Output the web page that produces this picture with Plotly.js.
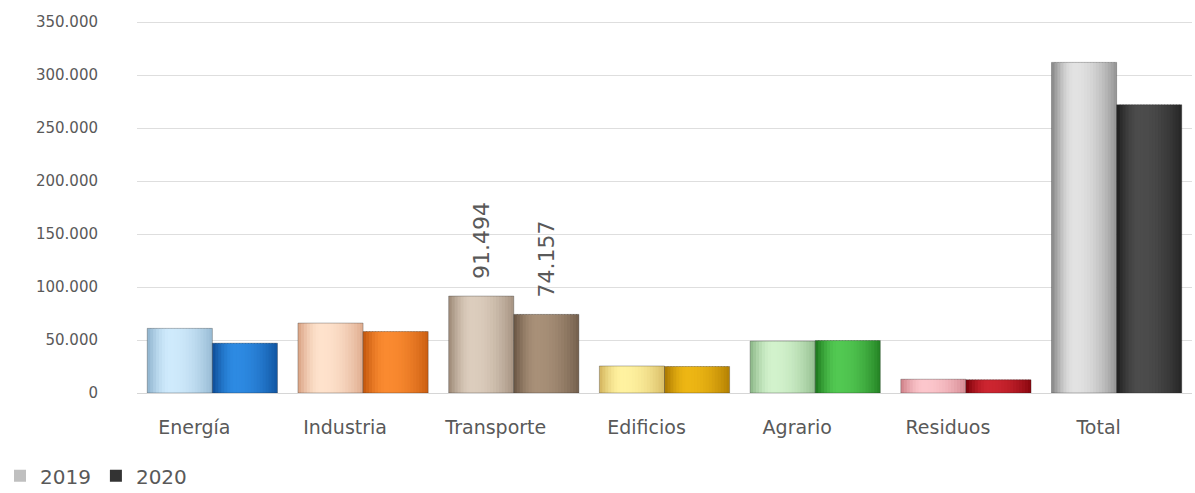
<!DOCTYPE html>
<html>
<head>
<meta charset="utf-8">
<script src="https://cdn.plot.ly/plotly-3.0.1.min.js"></script>
<style>html,body{margin:0;padding:0;background:#fff;}#chart{width:1195px;height:493px;}</style>
</head>
<body>
<div id="chart"></div>
<script>
// ---- data ----
const categories = ['Energía', 'Industria', 'Transporte', 'Edificios', 'Agrario', 'Residuos', 'Total'];
const values2019 = [61000, 66000, 91494, 25500, 49000, 13000, 312000];
const values2020 = [47000, 58000, 74157, 25000, 49500, 12500, 272000];
const labels2019 = ['', '', '91.494', '', '', '', ''];
const labels2020 = ['', '', '74.157', '', '', '', ''];
const seriesNames = ['2019', '2020'];
const yTickValues = [0, 50000, 100000, 150000, 200000, 250000, 300000, 350000];

// ---- styles: [edge colour, highlight colour] per bar ----
const shades2019 = [
  ['#8db2cd', '#cfeafc'], ['#d9a283', '#fee2cc'], ['#9c8876', '#dccdbd'], ['#d2b35c', '#fff2a0'],
  ['#8ab686', '#d2f2cc'], ['#cf8088', '#fcc6cc'], ['#858585', '#e2e2e2']
];
const shades2020 = [
  ['#0d4c96', '#2d8ae2'], ['#c2560c', '#fa8a30'], ['#6a5644', '#a89078'], ['#a87600', '#edb614'],
  ['#1c761c', '#52c852'], ['#7c0008', '#cc2530'], ['#1e1e1e', '#4c4c4c']
];
const legendColors = ['#bfbfbf', '#333333'];
const textColor = '#595959';
const fontFamily = '"DejaVu Sans", "Noto Sans", sans-serif';

function hexToRgb(h) {
  h = h.replace('#', '');
  return [parseInt(h.slice(0, 2), 16), parseInt(h.slice(2, 4), 16), parseInt(h.slice(4, 6), 16)];
}
function mix(a, b, t) {
  return [0, 1, 2].map(i => Math.round(a[i] + (b[i] - a[i]) * t));
}
function profile(p) {
  if (p < 0.35) return Math.sin(p / 0.35 * Math.PI / 2);
  return 1 - 0.85 * Math.pow((p - 0.35) / 0.65, 2);
}
function shade(pair, p) {
  const c = mix(hexToRgb(pair[0]), hexToRgb(pair[1]), profile(p));
  return 'rgb(' + c.join(',') + ')';
}

const barWidth = 0.432;
const nStrips = 22;
const traces = [];

function addSeries(values, shades, labels, offset) {
  const w = barWidth / nStrips;
  for (let i = 0; i < nStrips; i++) {
    const p = (i + 0.5) / nStrips;
    traces.push({
      type: 'bar', x: categories, y: values,
      offset: offset + i * w, width: (i === nStrips - 1) ? w : w * 1.4,
      marker: { color: shades.map(s => shade(s, p)), line: { width: 0 } },
      showlegend: false, hoverinfo: 'skip'
    });
  }
  // outline + data labels
  traces.push({
    type: 'bar', x: categories, y: values,
    offset: offset, width: barWidth,
    marker: { color: 'rgba(0,0,0,0)', line: { width: 1, color: 'rgba(30,30,30,0.3)' } },
    text: labels, texttemplate: '\u00a0\u00a0%{text}', textposition: 'outside', textangle: -90,
    constraintext: 'none',
    textfont: { size: 22, color: textColor, family: fontFamily },
    cliponaxis: false, showlegend: false, hoverinfo: 'skip'
  });
}
addSeries(values2019, shades2019, labels2019, -barWidth);
addSeries(values2020, shades2020, labels2020, 0);

// legend entries (zero-height bars, only shown in the legend)
seriesNames.forEach((n, k) => {
  traces.push({
    type: 'bar', x: [categories[0]], y: [0], name: n,
    marker: { color: legendColors[k], line: { width: 0 } },
    showlegend: true, hoverinfo: 'skip'
  });
});

const layout = {
  width: 1195, height: 493,
  margin: { l: 137, r: 3, t: 20, b: 100 },
  paper_bgcolor: '#ffffff', plot_bgcolor: '#ffffff',
  barmode: 'overlay',
  separators: ',.',
  font: { family: fontFamily, color: textColor },
  xaxis: {
    type: 'category', range: [-0.5, 6.5], showgrid: false, showline: false, ticks: '',
    tickfont: { size: 19, color: textColor, family: fontFamily },
    ticklabelstandoff: 21, ticklabelshift: -18, fixedrange: true
  },
  yaxis: {
    range: [0, 352000], tickvals: yTickValues, tickformat: ',d',
    showgrid: true, gridcolor: '#dedede', gridwidth: 1,
    zeroline: true, zerolinecolor: '#d6d6d6', zerolinewidth: 1,
    showline: false, ticks: '',
    tickfont: { size: 15, color: textColor, family: fontFamily },
    ticklabelstandoff: 38, fixedrange: true
  },
  showlegend: true,
  legend: {
    orientation: 'h', xref: 'container', yref: 'container',
    x: -0.006, xanchor: 'left', y: 0.035, yanchor: 'middle',
    font: { size: 20, color: textColor, family: fontFamily },
    itemwidth: 30, bgcolor: 'rgba(0,0,0,0)'
  }
};

Plotly.newPlot('chart', traces, layout, { displayModeBar: false, staticPlot: true });
</script>
</body>
</html>
